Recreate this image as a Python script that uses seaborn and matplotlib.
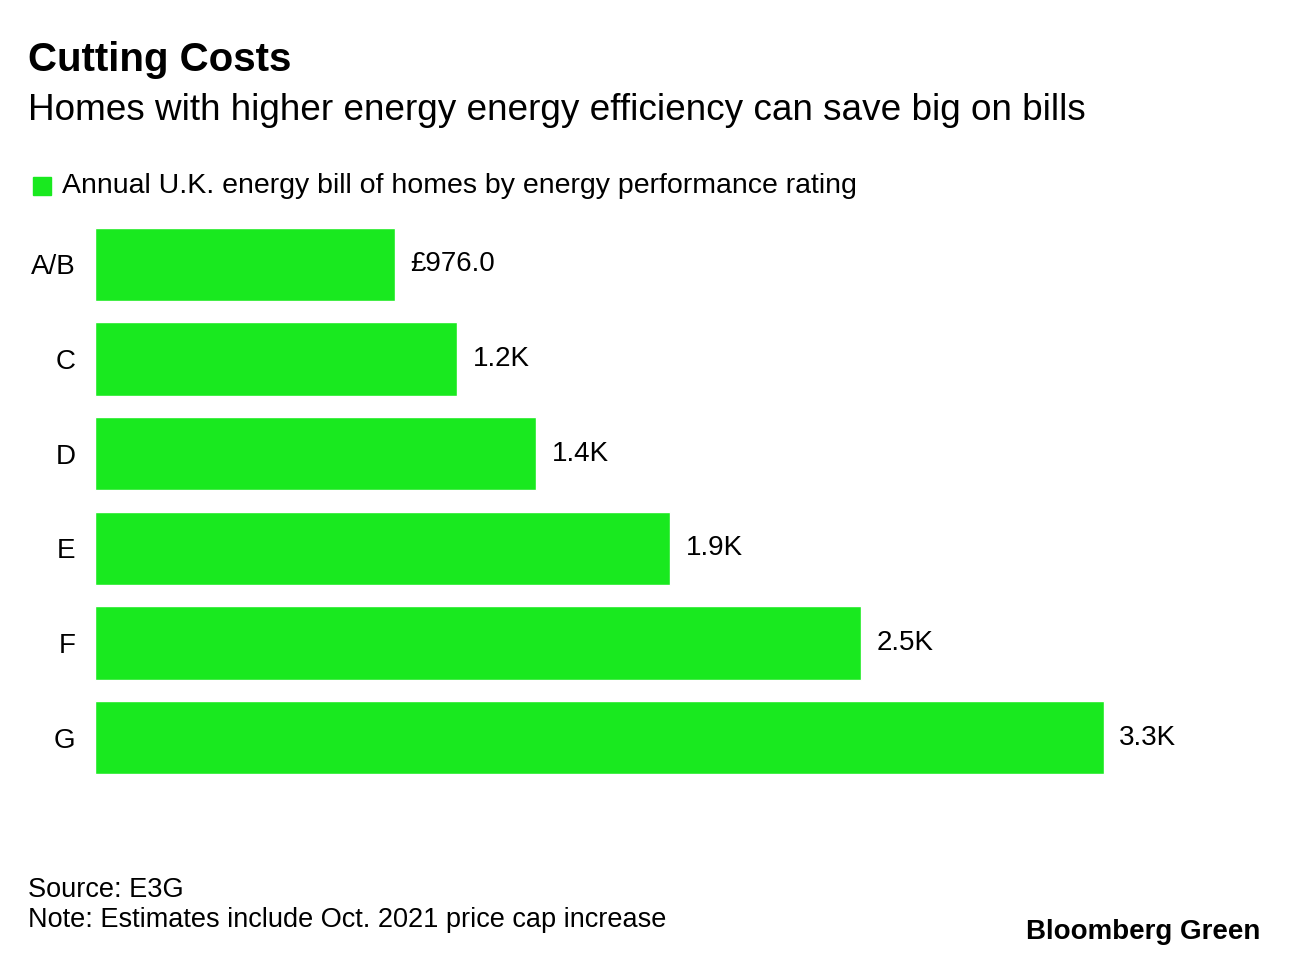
import matplotlib
matplotlib.use("Agg")
import matplotlib.pyplot as plt
import seaborn as sns
import pandas as pd

ratings = ["A/B", "C", "D", "E", "F", "G"]
bills = [976, 1178, 1435, 1871, 2492, 3282]
labels = ["£976.0", "1.2K", "1.4K", "1.9K", "2.5K", "3.3K"]

df = pd.DataFrame({"rating": ratings, "bill": bills})
green = "#19E91F"

sns.set_theme(style="white")
plt.rcParams["font.family"] = ["Liberation Sans", "DejaVu Sans"]
plt.rcParams["text.color"] = "black"
plt.rcParams["ytick.color"] = "black"

W, H = 1290, 960
fig = plt.figure(figsize=(12.9, 9.6), dpi=100)
ax = fig.add_axes([95 / W, 1 - 785 / H, (1200 - 95) / W, (785 - 217) / H])
sns.barplot(data=df, x="bill", y="rating", color=green, width=0.772,
            saturation=1, ax=ax)
ax.set_xlim(0, 3595)
ax.set_ylim(5.5, -0.5)
for i, (v, t) in enumerate(zip(bills, labels)):
    ax.text(v + 50, i, t, va="center", ha="left", fontsize=20)
ax.set_xticks([])
ax.set_xlabel("")
ax.set_ylabel("")
ax.tick_params(axis="y", length=0, labelsize=20, pad=14)
sns.despine(ax=ax, left=True, bottom=True)

fig.text(28 / W, 1 - 60 / H, "Cutting Costs", fontsize=29, fontweight="bold", va="center")
fig.text(28 / W, 1 - 110 / H, "Homes with higher energy energy efficiency can save big on bills",
         fontsize=26.6, va="center")
fig.patches.append(plt.Rectangle((33 / W, 1 - 195 / H), 18 / W, 18 / H, color=green,
                                 transform=fig.transFigure, figure=fig))
fig.text(62 / W, 1 - 186 / H, "Annual U.K. energy bill of homes by energy performance rating",
         fontsize=20.5, va="center")
fig.text(28 / W, 1 - 890 / H, "Source: E3G", fontsize=19.5, va="center")
fig.text(28 / W, 1 - 920 / H, "Note: Estimates include Oct. 2021 price cap increase",
         fontsize=19.5, va="center")
fig.text(1260 / W, 1 - 932 / H, "Bloomberg Green", fontsize=20, fontweight="bold",
         ha="right", va="center")

fig.savefig("out.png", dpi=100)
